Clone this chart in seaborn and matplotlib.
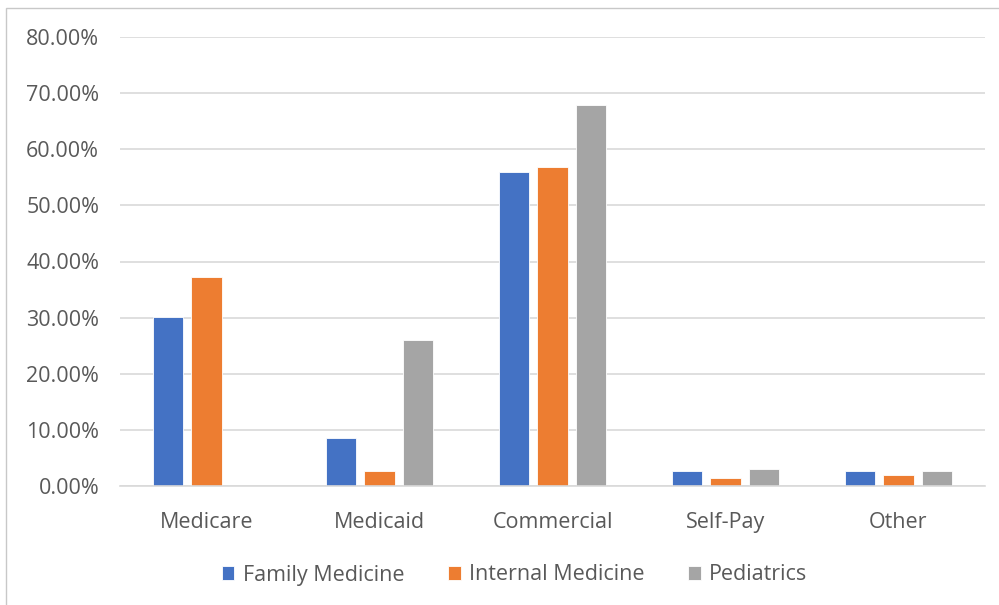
import pandas as pd
import seaborn as sns
import matplotlib.pyplot as plt
from matplotlib.patches import Rectangle
from matplotlib.ticker import PercentFormatter

categories = ["Medicare", "Medicaid", "Commercial", "Self-Pay", "Other"]
family_medicine = [30.2, 8.6, 55.9, 2.6, 2.6]
internal_medicine = [37.2, 2.6, 56.8, 1.4, 1.9]
pediatrics = [0.0, 26.0, 67.9, 3.0, 2.6]
series_names = ["Family Medicine", "Internal Medicine", "Pediatrics"]
y_ticks = [0, 10, 20, 30, 40, 50, 60, 70, 80]

df = pd.DataFrame({
    "Category": categories * 3,
    "Specialty": [series_names[0]] * 5 + [series_names[1]] * 5 + [series_names[2]] * 5,
    "Value": family_medicine + internal_medicine + pediatrics,
})

sns.set_theme(style="white")
plt.rcParams['font.family'] = ['Open Sans', 'DejaVu Sans']

palette = ["#4472C4", "#ED7D31", "#A5A5A5"]
fs = 15.5

fig = plt.figure(figsize=(9.99, 6.05), dpi=100)
ax = fig.add_axes([120 / 999, 1 - 486 / 605, 865 / 999, 449 / 605])

sns.barplot(data=df, x="Category", y="Value", hue="Specialty",
            palette=palette, width=0.66, gap=0.21, ax=ax,
            edgecolor="white", linewidth=0.6, saturation=1)

ax.set_ylim(0, 80)
ax.set_yticks(y_ticks)
ax.yaxis.set_major_formatter(PercentFormatter(decimals=2))
ax.set_xlim(-0.5, 4.5)
ax.grid(axis="y", color="#d9d9d9", linewidth=1.2)
ax.set_axisbelow(True)
for s in ["top", "right", "left"]:
    ax.spines[s].set_visible(False)
ax.spines["bottom"].set_color("#d9d9d9")
ax.spines["bottom"].set_linewidth(1.2)
ax.tick_params(axis="both", length=0, labelsize=fs, labelcolor="#595959")
ax.tick_params(axis="y", pad=15)
ax.tick_params(axis="x", pad=19)
ax.set_xlabel("")
ax.set_ylabel("")

ax.get_legend().remove()
handles, labels = ax.get_legend_handles_labels()
fig.legend(handles, labels, loc="center", bbox_to_anchor=(0.515, 1 - 575 / 605),
           ncol=3, frameon=False, fontsize=fs, labelcolor="#595959",
           handlelength=0.6, handleheight=0.6, handletextpad=0.4, columnspacing=2.0)

fig.add_artist(Rectangle((6 / 999, -0.1), 2, 1.1 - 8 / 605, transform=fig.transFigure,
                         fill=False, edgecolor="#c8c8c8", linewidth=1))

fig.savefig("out.png", dpi=100)
